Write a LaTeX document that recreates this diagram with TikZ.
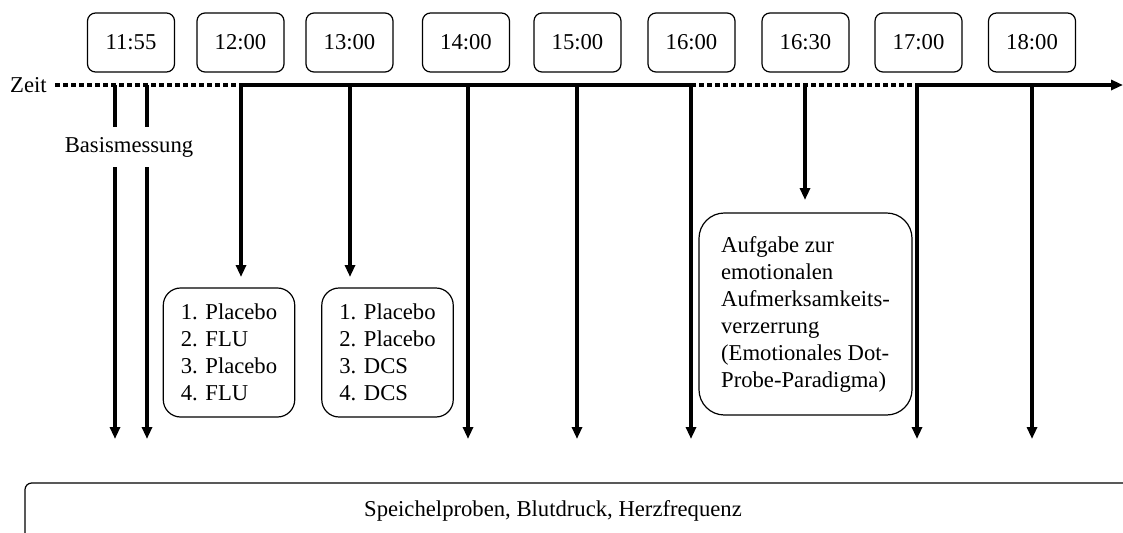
\documentclass[tikz,border=0pt]{standalone}
\usepackage{fontspec}
\setmainfont{Liberation Serif}
\usetikzlibrary{arrows.meta}

\tikzset{
  >={Triangle[width=7.5pt,length=9pt]},
  timebox/.style={draw, rounded corners=6pt, line width=0.9pt, minimum width=65.25pt, minimum height=44.25pt, inner sep=0pt},
  listbox/.style={draw, rounded corners=13pt, line width=0.9pt, align=left, minimum width=98.6pt, minimum height=96.75pt, inner sep=0pt},
  taskbox/.style={draw, rounded corners=19pt, line width=0.9pt, align=left, minimum width=159.75pt, minimum height=151.5pt, inner sep=0pt},
  solidline/.style={line width=3pt},
  dotline/.style={line width=3pt, dash pattern=on 3.75pt off 2.25pt},
}

\begin{document}
\begin{tikzpicture}[x=0.75pt,y=-0.75pt,every node/.style={font=\fontsize{17pt}{20.25pt}\selectfont}]
    \useasboundingbox (0,0) rectangle (1123,532);
    \clip (0,0) rectangle (1123,532);

    % Uhrzeiten
    \node[timebox] (T1155) at (131,42.5){11:55};
    \node[timebox] (T1200) at (240.5,42.5){12:00};
    \node[timebox] (T1300) at (349.5,42.5){13:00};
    \node[timebox] (T1400) at (466,42.5){14:00};
    \node[timebox] (T1500) at (577.5,42.5){15:00};
    \node[timebox] (T1600) at (691.5,42.5){16:00};
    \node[timebox] (T1630) at (805.5,42.5){16:30};
    \node[timebox] (T1700) at (918.5,42.5){17:00};
    \node[timebox] (T1800) at (1032,42.5){18:00};

    % Zeitachse
    \node[anchor=east,inner sep=0pt] (Zeit) at (47,85){Zeit};
    \coordinate (Z1) at (241,85);
    \coordinate (Z2) at (691,85);
    \coordinate (Z3) at (917,85);
    \coordinate (Zend) at (1123,85);

    \coordinate (K1155a) at (115,85);
    \coordinate (K1155b) at (147,85);
    \coordinate (K1300) at (350,85);
    \coordinate (K1400) at (468,85);
    \coordinate (K1500) at (577,85);
    \coordinate (K1630) at (805,85);
    \coordinate (K1800) at (1032,85);

    \coordinate (E1155a) at (115,439);
    \coordinate (E1155b) at (147,439);
    \coordinate (E1200) at (241,277);
    \coordinate (E1300) at (350,277);
    \coordinate (E1400) at (468,439);
    \coordinate (E1500) at (577,439);
    \coordinate (E1600) at (691,439);
    \coordinate (E1630) at (805,200);
    \coordinate (E1700) at (917,439);
    \coordinate (E1800) at (1032,439);

    \draw[dotline,shorten <=6pt] (Zeit) -- (Z1);
    \draw[dotline] (Z2) -- (Z3);
    \draw[solidline,<->] (E1200) |- (Z2) -- (E1600);
    \draw[solidline,<->] (E1700) |- (Zend);

    \node[inner xsep=0pt,inner ysep=7.5pt] (Basis) at (129,147){Basismessung};
    \draw[solidline] (K1155a) -- (Basis.north -| K1155a);
    \draw[solidline] (K1155b) -- (Basis.north -| K1155b);
    \draw[solidline,->] (Basis.south -| K1155a) -- (E1155a);
    \draw[solidline,->] (Basis.south -| K1155b) -- (E1155b);

    \draw (K1300) edge[solidline,->] (E1300);
    \draw (K1400) edge[solidline,->] (E1400);
    \draw (K1500) edge[solidline,->] (E1500);
    \draw (K1630) edge[solidline,->] (E1630);
    \draw (K1800) edge[solidline,->] (E1800);

    % Medikation und Aufgabe
    \node[listbox] (FLU) at (229,352.5){1. Placebo\\2. FLU\\3. Placebo\\4. FLU};
    \node[listbox] (DCS) at (387.5,352.5){1. Placebo\\2. Placebo\\3. DCS\\4. DCS};
    \node[taskbox] (Dotprobe) at (805.5,314){Aufgabe zur\\emotionalen\\Aufmerksamkeits-\\verzerrung\\(Emotionales Dot-\\Probe-Paradigma)};

    % Messungen
    \draw[rounded corners=5pt,line width=0.9pt] (25,483) rectangle (1140,560);
    \node (Messung) at (553,511){Speichelproben, Blutdruck, Herzfrequenz};
  \end{tikzpicture}
\end{document}
